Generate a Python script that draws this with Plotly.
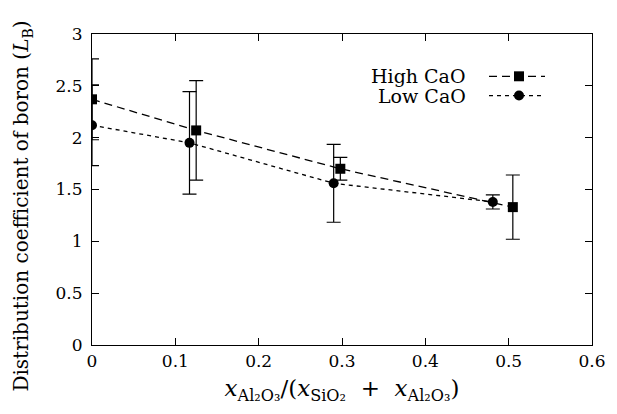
import plotly.graph_objects as go

# ── data ─────────────────────────────────────────────────────────────────────
high_x = [0.0, 0.125, 0.298, 0.505]
high_y = [2.37, 2.07, 1.70, 1.33]
high_err = [0.39, 0.48, 0.11, 0.31]

low_x = [0.0, 0.117, 0.290, 0.481]
low_y = [2.12, 1.95, 1.56, 1.38]
low_err = [0.39, 0.495, 0.376, 0.068]

x_ticks = [0, 0.1, 0.2, 0.3, 0.4, 0.5, 0.6]
x_tick_labels = ["0", "0.1", "0.2", "0.3", "0.4", "0.5", "0.6"]
y_ticks = [0, 0.5, 1, 1.5, 2, 2.5, 3]
y_tick_labels = ["0", "0.5", "1", "1.5", "2", "2.5", "3"]

FONT = "DejaVu Serif"
BLACK = "#000000"

fig = go.Figure()
fig.add_trace(go.Scatter(
    x=high_x, y=high_y, name="High CaO", mode="lines+markers",
    line=dict(color=BLACK, width=1.3, dash="8px,5px"),
    marker=dict(symbol="square", size=10, color=BLACK),
    error_y=dict(type="data", array=high_err, color=BLACK, thickness=1.2, width=7),
))
fig.add_trace(go.Scatter(
    x=low_x, y=low_y, name="Low CaO", mode="lines+markers",
    line=dict(color=BLACK, width=1.3, dash="4px,4px"),
    marker=dict(symbol="circle", size=10, color=BLACK),
    error_y=dict(type="data", array=low_err, color=BLACK, thickness=1.2, width=7),
))

# ── hand-made legend (text on the left, sample on the right, gnuplot style) ──
legend_rows = [("High CaO", "8px,5px", "rect", 0.864), ("Low CaO", "4px,4px", "circle", 0.802)]
for label, dash, sym, yp in legend_rows:
    fig.add_annotation(x=0.752, y=yp, xref="paper", yref="paper", text=label,
                       showarrow=False, xanchor="right", yanchor="middle",
                       font=dict(family=FONT, size=19, color=BLACK))
    fig.add_shape(type="line", xref="paper", yref="paper", x0=0.794, x1=0.906, y0=yp, y1=yp,
                  line=dict(color=BLACK, width=1.3, dash=dash))
    fig.add_shape(type=sym, xref="paper", yref="paper", x0=0.844, x1=0.864, y0=yp - 0.016, y1=yp + 0.016,
                  fillcolor=BLACK, line=dict(color=BLACK, width=0))

# y title as an annotation so it can sit a little lower than the plot centre
fig.add_annotation(x=-0.14, y=0.445, xref="paper", yref="paper",
                   text="Distribution coefficient of boron (<i>L</i><sub>B</sub>)",
                   textangle=-90, showarrow=False, xanchor="center", yanchor="middle",
                   font=dict(family=FONT, size=20, color=BLACK))

axis_common = dict(
    showline=True, linecolor=BLACK, linewidth=1.2, mirror="ticks",
    ticks="inside", ticklen=7, tickcolor=BLACK, tickwidth=1.2,
    showgrid=False, zeroline=False,
    tickfont=dict(family=FONT, size=17, color=BLACK),
)

# page body has an 8px margin, so the figure is 8px smaller than the window
fig.update_layout(
    width=609, height=406,
    margin=dict(l=84, r=25, t=26, b=69),
    paper_bgcolor="white", plot_bgcolor="white",
    showlegend=False,
    font=dict(family=FONT, color=BLACK),
    xaxis=dict(range=[0, 0.6], tickvals=x_ticks, ticktext=x_tick_labels,
               title=dict(text="<i>x</i><sub>Al₂O₃</sub>/(<i>x</i><sub>SiO₂</sub>  +  <i>x</i><sub>Al₂O₃</sub>)",
                          font=dict(family=FONT, size=23, color=BLACK), standoff=10),
               **axis_common),
    yaxis=dict(range=[0, 3], tickvals=y_ticks, ticktext=y_tick_labels, ticklabelstandoff=5,
               **axis_common),
)

fig.write_html("out.html")
